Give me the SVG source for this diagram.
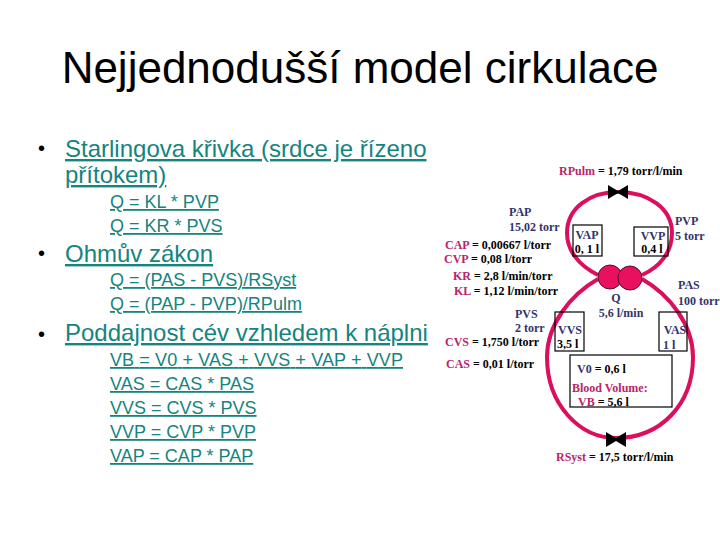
<svg xmlns="http://www.w3.org/2000/svg" width="720" height="540" viewBox="0 0 720 540">
<style>
.a{font-family:"Liberation Sans",Arial,sans-serif;fill:#000}
.t{font-size:44px}
.h{font-size:24px;fill:#15847f;text-decoration:underline;text-decoration-thickness:2px}
.s{font-family:"Liberation Sans",Arial,sans-serif;font-size:18px;fill:#15847f;text-decoration:underline;text-decoration-thickness:2px}
.d{font-size:20px;fill:#000}
.n{font-family:"Liberation Serif","Times New Roman",serif;font-size:12px;font-weight:bold;fill:#000}
.v{fill:#33336b}
.r{fill:#b8246c}
.box{fill:none;stroke:#000;stroke-width:1.2}
.loop{fill:none;stroke:#dc0f5f;stroke-width:4}
.valve{fill:#000}
.pump{fill:#e8105f;stroke:#5a0a2a;stroke-width:1}
</style>
<rect width="720" height="540" fill="#fff"/>
<g id="title"><text class="a t" x="360" y="83" text-anchor="middle">Nejjednodušší model cirkulace</text></g>
<g id="bullets">
<text class="a d" x="38" y="155">•</text>
<text class="a h" x="65" y="157">Starlingova křivka (srdce je řízeno</text>
<text class="a h" x="65" y="183">přítokem)</text>
<text class="s" x="110" y="208">Q = KL * PVP</text>
<text class="s" x="110" y="232">Q = KR * PVS</text>
<text class="a d" x="38" y="260">•</text>
<text class="a h" x="65" y="262">Ohmův zákon</text>
<text class="s" x="110" y="286">Q = (PAS - PVS)/RSyst</text>
<text class="s" x="110" y="310">Q = (PAP - PVP)/RPulm</text>
<text class="a d" x="38" y="341">•</text>
<text class="a h" x="65" y="341">Poddajnost cév vzhledem k náplni</text>
<text class="s" x="110" y="366" textLength="293">VB = V0 + VAS + VVS + VAP + VVP</text>
<text class="s" x="110" y="390">VAS = CAS * PAS</text>
<text class="s" x="110" y="414">VVS = CVS * PVS</text>
<text class="s" x="110" y="438">VVP = CVP * PVP</text>
<text class="s" x="110" y="462">VAP = CAP * PAP</text>
</g>
<g id="connectors">
<path class="loop" d="M598 275C578 265 567 250 567 233C567 208 590 192 618 192C648 192 672 208 672 233C672 252 660 267 642 275"/>
<path class="loop" d="M598 279C570 295 547 325 547 357C547 405 580 438 616 438C660 438 693 405 693 357C693 325 670 295 642 279"/>
<path class="valve" d="M608 185L618 191L628 185V199L618 193L608 199Z"/>
<path class="valve" d="M606 432L616 438L626 432V447L616 441L606 447Z"/>
</g>
<g id="pumps"><circle class="pump" cx="610" cy="277" r="12"/><circle class="pump" cx="630" cy="278" r="12"/></g>
<g id="vap"><rect class="box" x="573" y="225" width="29" height="31"/><text class="n v" x="587" y="239" text-anchor="middle">VAP</text><text class="n" x="587" y="253" text-anchor="middle">0, 1 l</text></g>
<g id="vvp"><rect class="box" x="634" y="227" width="34" height="29"/><text class="n v" x="653" y="240" text-anchor="middle">VVP</text><text class="n" x="652" y="253" text-anchor="middle">0,4 l</text></g>
<g id="vvs"><rect class="box" x="555" y="312" width="29" height="39"/><text class="n v" x="570" y="334" text-anchor="middle">VVS</text><text class="n" x="557" y="348">3,5 l</text></g>
<g id="vas"><rect class="box" x="659" y="312" width="28" height="39"/><text class="n v" x="675" y="334" text-anchor="middle">VAS</text><text class="n v" x="663" y="349">1 l</text></g>
<g id="v0"><rect class="box" x="570" y="355" width="102" height="52"/><text class="n v" x="577" y="373">V0 <tspan fill="#000">= 0,6 l</tspan></text><text class="n r" x="572" y="392">Blood Volume:</text><text class="n r" x="578" y="406">VB <tspan fill="#000">=  5,6 l</tspan></text></g>
<g id="labels">
<text class="n" x="559" y="175"><tspan class="r">RPulm</tspan> = 1,79 torr/l/min</text>
<text class="n v" x="509" y="216">PAP</text>
<text class="n v" x="509" y="231">15,02 torr</text>
<text class="n v" x="675" y="225">PVP</text>
<text class="n v" x="675" y="240">5 torr</text>
<text class="n" x="445" y="249"><tspan class="r">CAP</tspan> = 0,00667 l/torr</text>
<text class="n" x="444" y="263"><tspan class="r">CVP</tspan> = 0,08 l/torr</text>
<text class="n" x="453" y="280"><tspan class="r">KR</tspan> = 2,8 l/min/torr</text>
<text class="n" x="454" y="295"><tspan class="r">KL</tspan> = 1,12 l/min/torr</text>
<text class="n v" x="678" y="289">PAS</text>
<text class="n v" x="678" y="305">100 torr</text>
<text class="n v" x="616" y="302" text-anchor="middle">Q</text>
<text class="n v" x="621" y="317" text-anchor="middle">5,6 l/min</text>
<text class="n v" x="515" y="318">PVS</text>
<text class="n v" x="515" y="332">2 torr</text>
<text class="n" x="445" y="346"><tspan class="r">CVS</tspan> = 1,750 l/torr</text>
<text class="n" x="446" y="368"><tspan class="r">CAS</tspan> = 0,01 l/torr</text>
<text class="n" x="556" y="461"><tspan class="r">RSyst</tspan> = 17,5 torr/l/min</text>
</g>
</svg>
